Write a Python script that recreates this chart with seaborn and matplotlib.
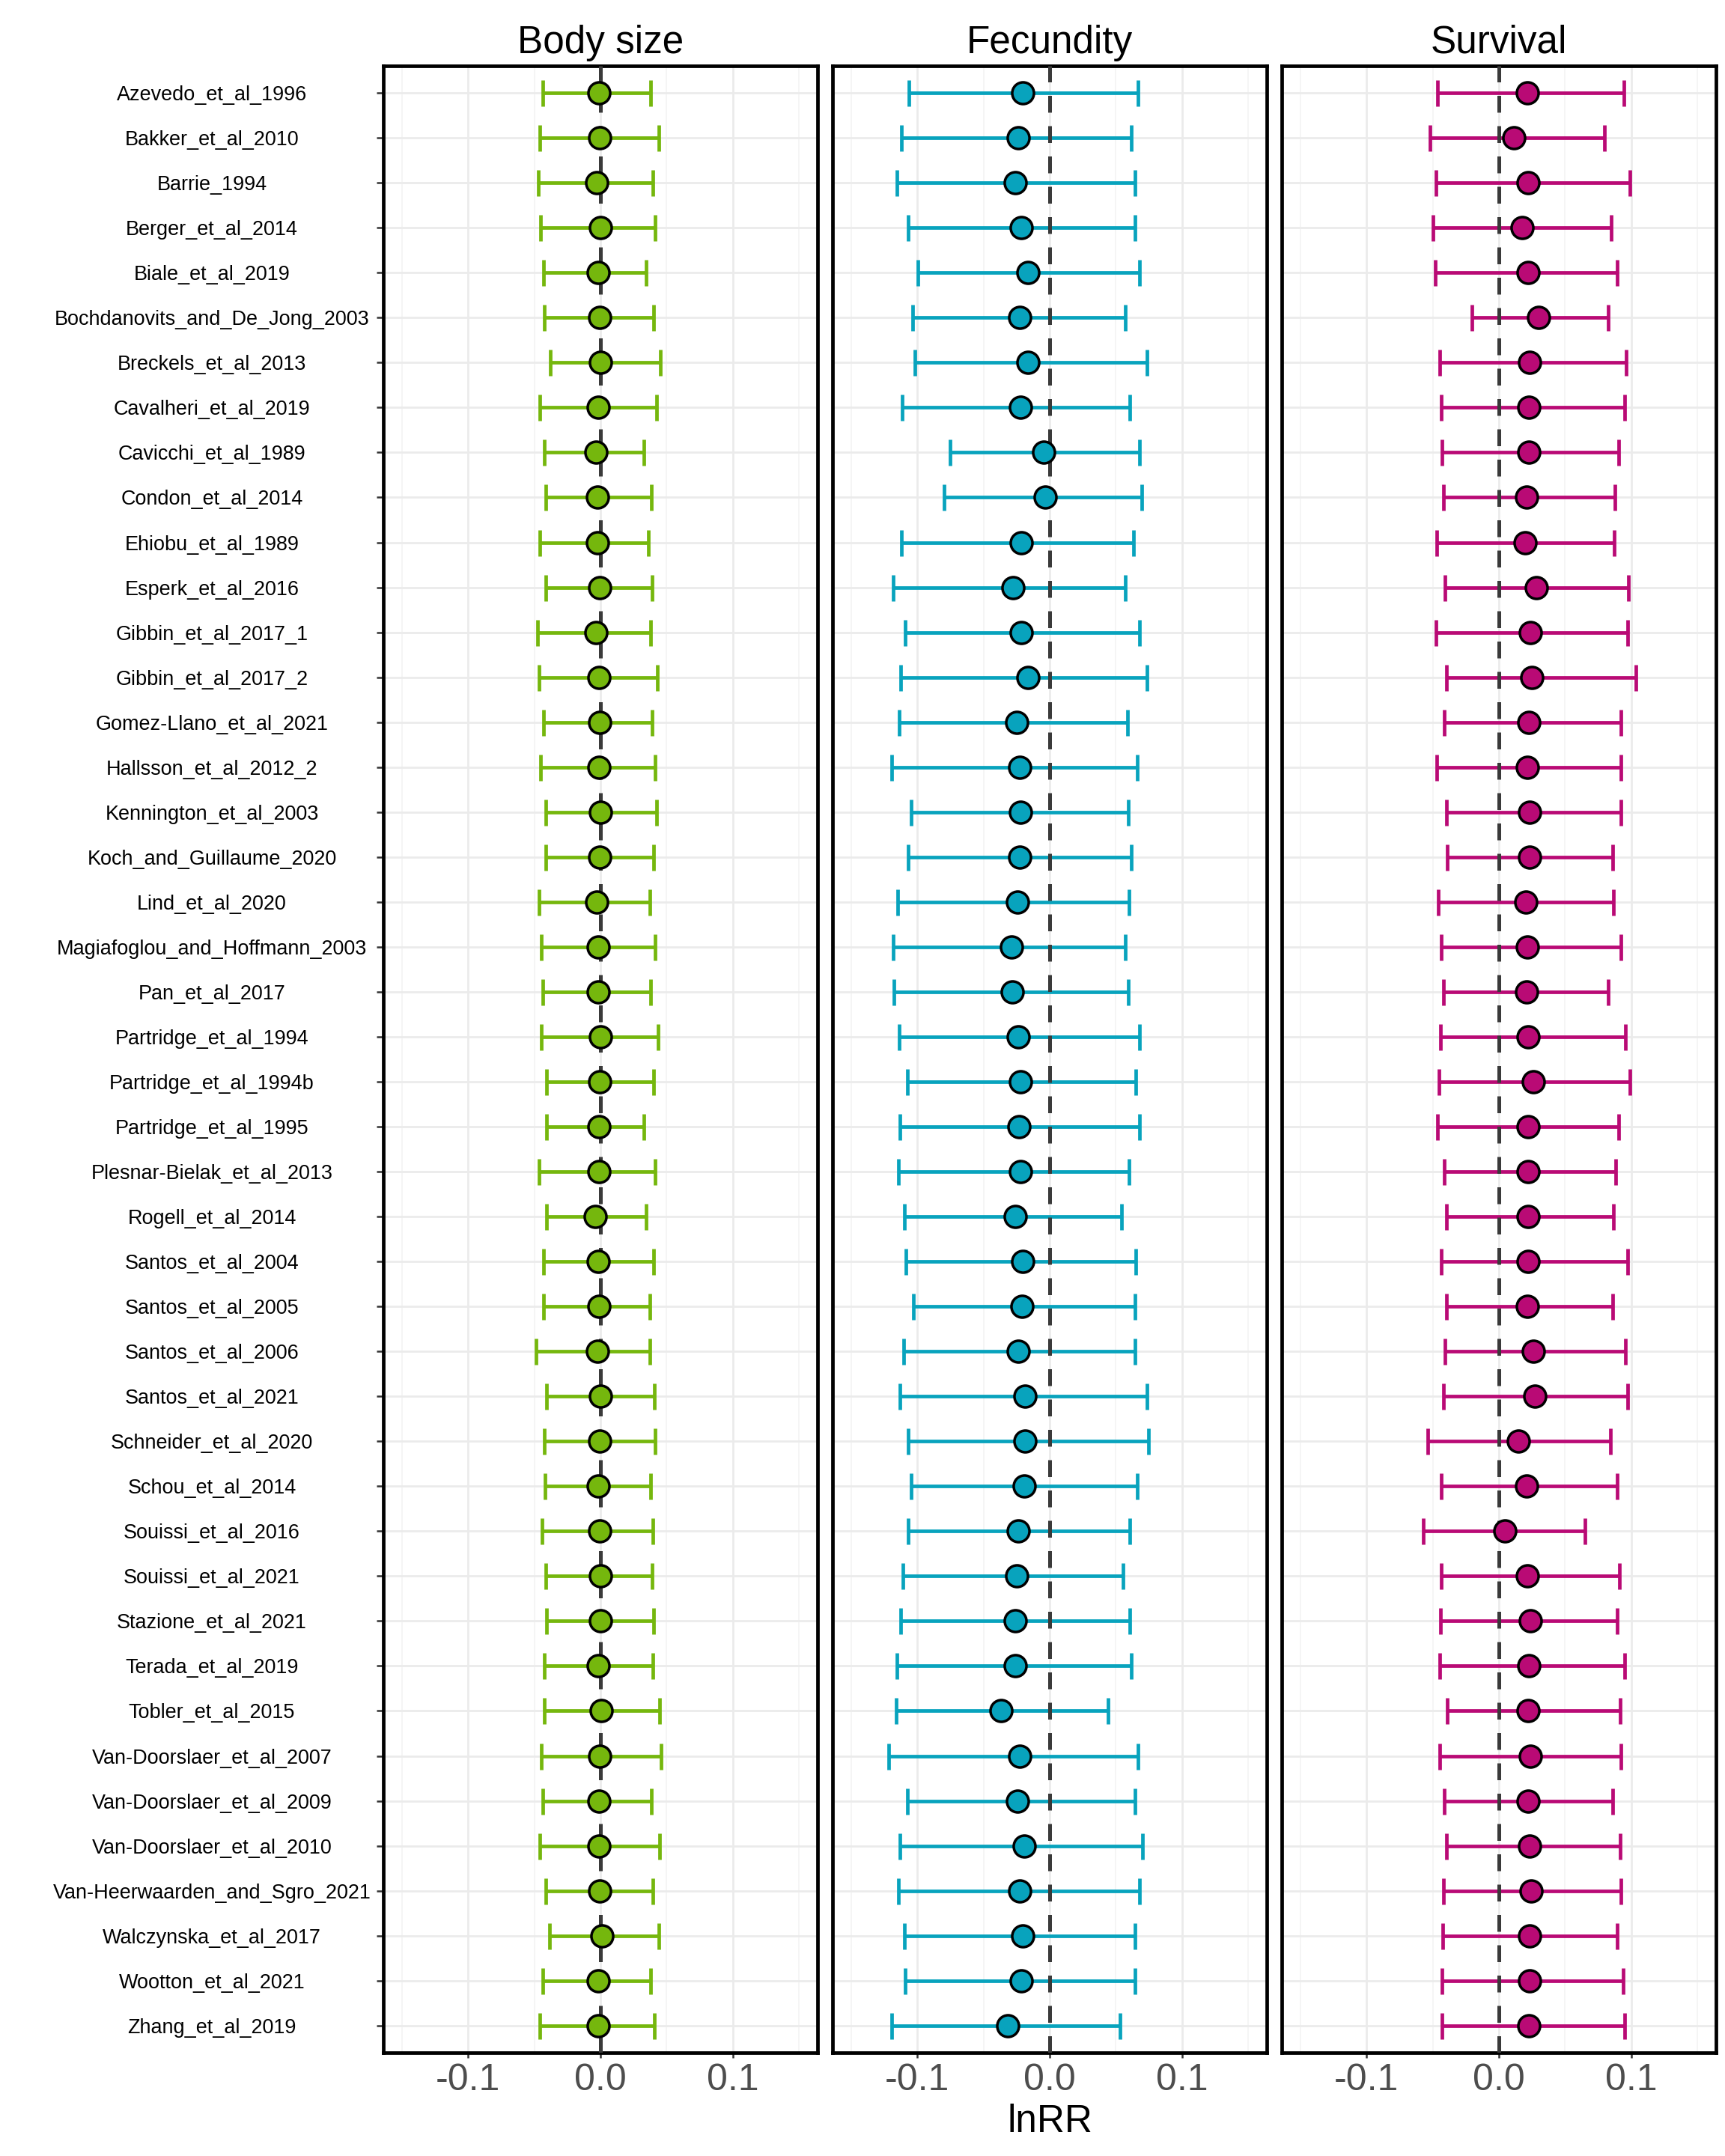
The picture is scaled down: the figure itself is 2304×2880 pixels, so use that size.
import numpy as np
import pandas as pd
import matplotlib
matplotlib.use("Agg")
import matplotlib.pyplot as plt
import seaborn as sns

studies = [
    "Azevedo_et_al_1996", "Bakker_et_al_2010", "Barrie_1994", "Berger_et_al_2014",
    "Biale_et_al_2019", "Bochdanovits_and_De_Jong_2003", "Breckels_et_al_2013",
    "Cavalheri_et_al_2019", "Cavicchi_et_al_1989", "Condon_et_al_2014",
    "Ehiobu_et_al_1989", "Esperk_et_al_2016", "Gibbin_et_al_2017_1", "Gibbin_et_al_2017_2",
    "Gomez-Llano_et_al_2021", "Hallsson_et_al_2012_2", "Kennington_et_al_2003",
    "Koch_and_Guillaume_2020", "Lind_et_al_2020", "Magiafoglou_and_Hoffmann_2003",
    "Pan_et_al_2017", "Partridge_et_al_1994", "Partridge_et_al_1994b", "Partridge_et_al_1995",
    "Plesnar-Bielak_et_al_2013", "Rogell_et_al_2014", "Santos_et_al_2004", "Santos_et_al_2005",
    "Santos_et_al_2006", "Santos_et_al_2021", "Schneider_et_al_2020", "Schou_et_al_2014",
    "Souissi_et_al_2016", "Souissi_et_al_2021", "Stazione_et_al_2021", "Terada_et_al_2019",
    "Tobler_et_al_2015", "Van-Doorslaer_et_al_2007", "Van-Doorslaer_et_al_2009",
    "Van-Doorslaer_et_al_2010", "Van-Heerwaarden_and_Sgro_2021", "Walczynska_et_al_2017",
    "Wootton_et_al_2021", "Zhang_et_al_2019",
]

panels = ["Body size", "Fecundity", "Survival"]

body_mean = [-0.0011, -0.0004, -0.0027, 0.0002, -0.0015, -0.0004, 0.0002, -0.0015, -0.0032, -0.0021,
             -0.0021, -0.0004, -0.0032, -0.0011, -0.0004, -0.0011, 0.0002, -0.0004, -0.0027, -0.0015,
             -0.0015, 0.0002, -0.0004, -0.0011, -0.0011, -0.0038, -0.0015, -0.0011, -0.0021, 0.0002,
             -0.0004, -0.0015, -0.0004, 0.0002, 0.0002, -0.0015, 0.0006, -0.0004, -0.0011, -0.0011,
             -0.0004, 0.0013, -0.0015, -0.0015]
body_lo = [-0.0434, -0.0457, -0.0469, -0.0453, -0.0429, -0.0423, -0.0379, -0.0457, -0.0423, -0.0413,
           -0.0457, -0.0413, -0.0476, -0.0463, -0.0429, -0.0453, -0.0413, -0.0413, -0.0463, -0.0446,
           -0.0434, -0.0446, -0.0406, -0.0406, -0.0463, -0.0406, -0.0429, -0.0429, -0.0486, -0.0406,
           -0.0423, -0.0417, -0.0440, -0.0413, -0.0406, -0.0423, -0.0423, -0.0446, -0.0434, -0.0457,
           -0.0413, -0.0383, -0.0434, -0.0457]
body_hi = [0.0381, 0.0442, 0.0398, 0.0415, 0.0347, 0.0402, 0.0455, 0.0425, 0.0331, 0.0385,
           0.0364, 0.0392, 0.0381, 0.0432, 0.0392, 0.0415, 0.0425, 0.0402, 0.0375, 0.0415,
           0.0381, 0.0438, 0.0402, 0.0331, 0.0415, 0.0347, 0.0402, 0.0375, 0.0375, 0.0408,
           0.0415, 0.0381, 0.0398, 0.0392, 0.0402, 0.0398, 0.0448, 0.0459, 0.0385, 0.0448,
           0.0398, 0.0442, 0.0381, 0.0408]

fec_mean = [-0.0204, -0.0238, -0.0261, -0.0215, -0.0164, -0.0227, -0.0164, -0.0221, -0.0044, -0.0034,
            -0.0215, -0.0278, -0.0215, -0.0164, -0.0248, -0.0225, -0.0221, -0.0225, -0.0242, -0.0288,
            -0.0282, -0.0236, -0.0221, -0.0232, -0.0221, -0.0261, -0.0204, -0.0208, -0.0236, -0.0187,
            -0.0187, -0.0192, -0.0236, -0.0248, -0.0261, -0.0261, -0.0368, -0.0225, -0.0242, -0.0192,
            -0.0225, -0.0204, -0.0215, -0.0318]
fec_lo = [-0.1063, -0.1120, -0.1154, -0.1070, -0.0996, -0.1036, -0.1017, -0.1114, -0.0752, -0.0798,
          -0.1120, -0.1183, -0.1093, -0.1126, -0.1137, -0.1194, -0.1046, -0.1070, -0.1147, -0.1183,
          -0.1177, -0.1137, -0.1074, -0.1133, -0.1143, -0.1097, -0.1086, -0.1029, -0.1103, -0.1133,
          -0.1070, -0.1046, -0.1070, -0.1109, -0.1126, -0.1154, -0.1160, -0.1217, -0.1074, -0.1133,
          -0.1143, -0.1097, -0.1093, -0.1194]
fec_hi = [0.0669, 0.0617, 0.0646, 0.0646, 0.0676, 0.0573, 0.0733, 0.0606, 0.0676, 0.0693,
          0.0636, 0.0573, 0.0680, 0.0733, 0.0589, 0.0663, 0.0596, 0.0617, 0.0602, 0.0573,
          0.0596, 0.0676, 0.0653, 0.0676, 0.0602, 0.0545, 0.0653, 0.0646, 0.0646, 0.0733,
          0.0749, 0.0663, 0.0606, 0.0556, 0.0606, 0.0617, 0.0442, 0.0669, 0.0642, 0.0703,
          0.0680, 0.0642, 0.0646, 0.0533]

surv_mean = [0.0217, 0.0114, 0.0221, 0.0177, 0.0221, 0.0299, 0.0232, 0.0225, 0.0225, 0.0208,
             0.0198, 0.0282, 0.0238, 0.0248, 0.0225, 0.0217, 0.0232, 0.0232, 0.0204, 0.0217,
             0.0208, 0.0221, 0.0261, 0.0221, 0.0221, 0.0221, 0.0221, 0.0217, 0.0261, 0.0272,
             0.0147, 0.0208, 0.0046, 0.0217, 0.0238, 0.0225, 0.0221, 0.0238, 0.0221, 0.0232,
             0.0244, 0.0232, 0.0232, 0.0225]
surv_lo = [-0.0463, -0.0520, -0.0474, -0.0497, -0.0480, -0.0202, -0.0446, -0.0436, -0.0429, -0.0417,
           -0.0469, -0.0406, -0.0474, -0.0396, -0.0413, -0.0469, -0.0396, -0.0389, -0.0459, -0.0436,
           -0.0417, -0.0442, -0.0453, -0.0463, -0.0413, -0.0396, -0.0436, -0.0396, -0.0406, -0.0417,
           -0.0537, -0.0436, -0.0573, -0.0436, -0.0442, -0.0446, -0.0389, -0.0446, -0.0413, -0.0396,
           -0.0417, -0.0423, -0.0429, -0.0429]
surv_hi = [0.0947, 0.0800, 0.0992, 0.0850, 0.0895, 0.0827, 0.0962, 0.0952, 0.0905, 0.0878,
           0.0872, 0.0981, 0.0975, 0.1032, 0.0924, 0.0924, 0.0924, 0.0861, 0.0867, 0.0924,
           0.0827, 0.0958, 0.0992, 0.0907, 0.0884, 0.0867, 0.0975, 0.0857, 0.0958, 0.0971,
           0.0844, 0.0891, 0.0653, 0.0912, 0.0891, 0.0952, 0.0918, 0.0924, 0.0861, 0.0918,
           0.0924, 0.0891, 0.0941, 0.0952]

colors = ["#75B70D", "#08A3BD", "#B90A75"]
xticks = [-0.1, 0.0, 0.1]
xticklabels = ["-0.1", "0.0", "0.1"]

sns.set_theme(style="white")
plt.rcParams["font.family"] = ["Liberation Sans", "DejaVu Sans"]
plt.rcParams["axes.unicode_minus"] = False

fig, axes = plt.subplots(1, 3, figsize=(12.8, 16), dpi=180, sharey=True)
fig.subplots_adjust(left=0.2222, right=0.9948, top=0.9694, bottom=0.048, wspace=0.0346)

pos = np.arange(1, len(studies) + 1)
series = [(body_mean, body_lo, body_hi), (fec_mean, fec_lo, fec_hi), (surv_mean, surv_lo, surv_hi)]

for i, (ax, name, (m, lo, hi), col) in enumerate(zip(axes, panels, series, colors)):
    df = pd.DataFrame({"study": studies, "pos": pos, "mean": m, "lo": lo, "hi": hi})
    ax.set_xlim(-0.164, 0.164)
    ax.set_ylim(len(studies) + 0.6, 0.4)
    ax.set_xticks(xticks)
    ax.set_xticklabels(xticklabels)
    ax.set_xticks([-0.15, -0.05, 0.05, 0.15], minor=True)
    ax.grid(True, which="major", axis="both", color="#EBEBEB", linewidth=1.1, zorder=0)
    ax.grid(True, which="minor", axis="x", color="#F2F2F2", linewidth=0.6, zorder=0)
    ax.set_axisbelow(True)
    ax.errorbar(df["mean"], df["pos"],
                xerr=[df["mean"] - df["lo"], df["hi"] - df["mean"]],
                fmt="none", ecolor=col, elinewidth=1.9, capsize=7, capthick=1.9, zorder=2)
    ax.axvline(0, color="#3A3A3A", linewidth=2.0, linestyle=(0, (4.5, 3.6)), zorder=3)
    sns.scatterplot(data=df, x="mean", y="pos", ax=ax, color=col, edgecolor="black",
                    s=135, linewidth=1.4, zorder=4, legend=False)
    ax.set_title(name, fontsize=20.5, color="black", pad=7)
    ax.set_ylabel("")
    ax.set_xlabel("lnRR" if i == 1 else "", fontsize=20.5, color="black", labelpad=3)
    for sp in ax.spines.values():
        sp.set_visible(True)
        sp.set_color("black")
        sp.set_linewidth(1.9)
    ax.tick_params(axis="x", which="major", length=2.8, width=1.0, color="#333333",
                   labelsize=20, labelcolor="#4D4D4D", pad=3, bottom=True)
    ax.tick_params(axis="x", which="minor", length=0)
    if i == 0:
        ax.set_yticks(pos)
        ax.set_yticklabels(studies)
        ax.tick_params(axis="y", length=3.6, width=1.0, color="#333333", labelsize=10.8,
                       labelcolor="black", pad=88, left=True)
        for lab in ax.get_yticklabels():
            lab.set_horizontalalignment("center")
    else:
        ax.tick_params(axis="y", left=False, labelleft=False)

fig.savefig("out.png", dpi=180)
